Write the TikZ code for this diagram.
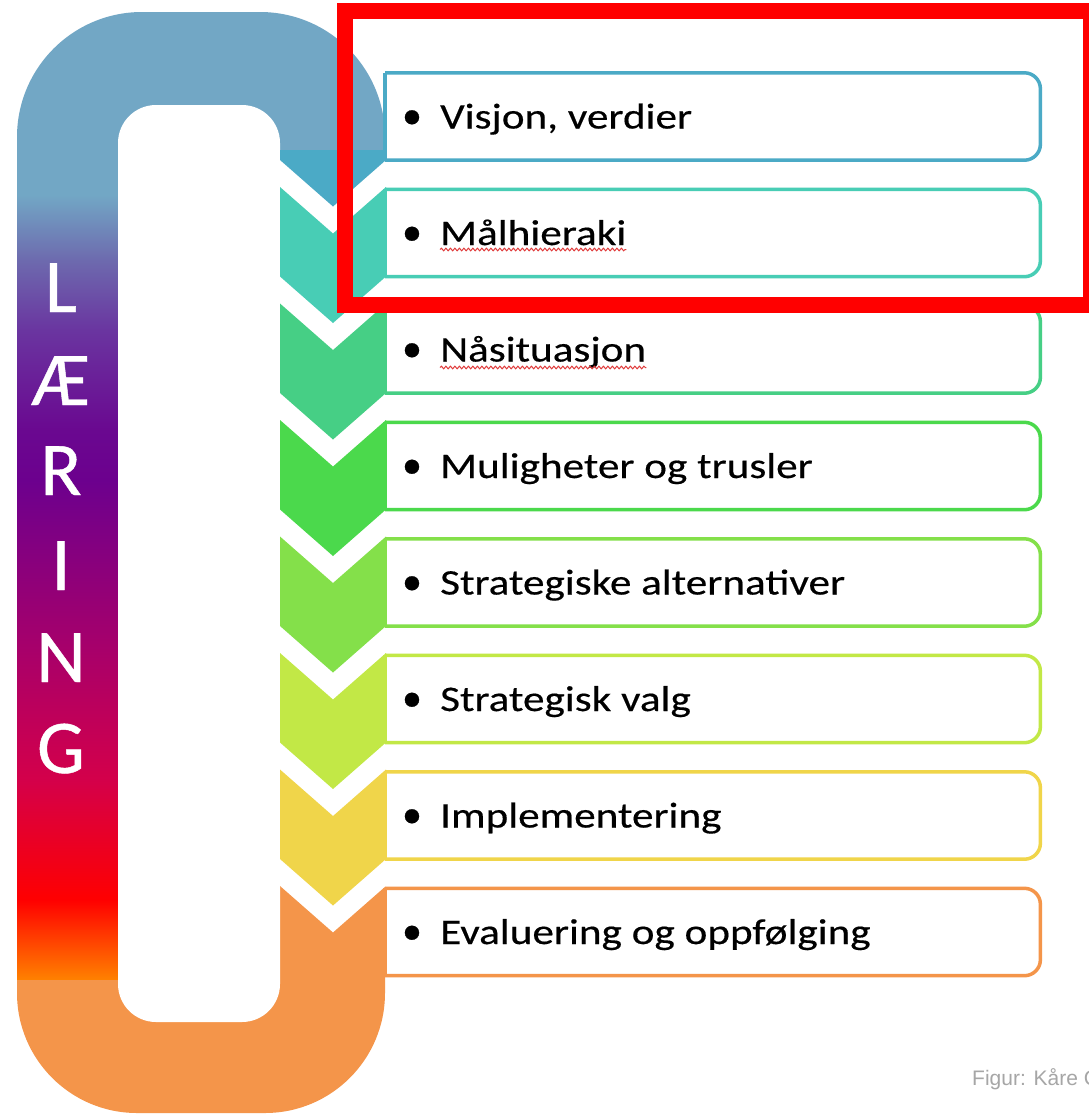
\documentclass[tikz,border=0pt]{standalone}
\usepackage{fontspec}
\setmainfont{Carlito}
\newfontfamily\stepfont[FakeStretch=1.2,FakeBold=0.4]{Carlito}
\newfontfamily\letterfont[FakeBold=0.6]{Carlito}
\newfontfamily\capfont{Liberation Sans}
\usetikzlibrary{decorations.pathmorphing}
\definecolor{topblue}{HTML}{72A7C5}
\definecolor{cA}{HTML}{4BAAC6}
\definecolor{cB}{HTML}{48CDB5}
\definecolor{cC}{HTML}{46CF85}
\definecolor{cD}{HTML}{4BD94C}
\definecolor{cE}{HTML}{84E04A}
\definecolor{cF}{HTML}{C2E846}
\definecolor{cG}{HTML}{F0D54A}
\definecolor{cH}{HTML}{F4954A}
\definecolor{g1}{HTML}{72A7C5}
\definecolor{g2}{HTML}{6D6AAE}
\definecolor{g3}{HTML}{6A35A0}
\definecolor{g4}{HTML}{6A0890}
\definecolor{g5}{HTML}{6C008E}
\definecolor{g6}{HTML}{A8006A}
\definecolor{g7}{HTML}{D4004A}
\definecolor{g8}{HTML}{FF0000}
\definecolor{g9}{HTML}{FF8000}
\definecolor{capgray}{HTML}{A6A6A6}
\definecolor{hlred}{HTML}{FF0000}
\definecolor{squig}{HTML}{E03A3A}
\begin{document}
\begin{tikzpicture}[x=1pt,y=-1pt,
  stepbox/.style={anchor=west, minimum width=655pt, minimum height=87pt, inner sep=0pt, draw=none},
  boxframe/.style={line width=3.5pt, rounded corners=16pt},
  steptext/.style={anchor=base west, inner sep=0pt, text=black, font=\stepfont\fontsize{36}{40}\selectfont},
  bulletmark/.style={anchor=base, inner sep=0pt, text=black, font=\letterfont\fontsize{40}{44}\selectfont},
  letter/.style={anchor=base, inner sep=0pt, text=white, font=\letterfont\fontsize{76}{80}\selectfont},
  squiggle/.style={squig, line width=1pt, decorate, decoration={snake, amplitude=1.3pt, segment length=4.5pt}}]
\useasboundingbox (0,0) rectangle (1089,1117);
\fill[white] (0,0) rectangle (1089,1117);

% top arc of the loop
\begin{scope}
  \clip (0,0) -- (1089,0) -- (1089,150) -- (118,150) -- (118,320) -- (0,320) -- cycle;
  \fill[topblue, rounded corners=125pt] (17,12) rectangle (385,420);
\end{scope}

% bottom arc of the loop (with the notch of the last chevron)
\begin{scope}
  \clip (0,978) -- (280,978) -- (280,886) -- (333,932.5) -- (386,886) -- (386,1117) -- (0,1117) -- cycle;
  \fill[cH, rounded corners=120pt] (17,600) rectangle (385,1113);
\end{scope}

% left column gradient
\foreach \ya/\ca/\yb/\cb in {195/g1/260/g2, 260/g2/330/g3, 330/g3/430/g4, 430/g4/480/g5, 480/g5/650/g6, 650/g6/780/g7, 780/g7/900/g8, 900/g8/978.5/g9}{
  \shade[top color=\ca, bottom color=\cb] (17,\ya) rectangle (118,\yb+0.6);
}

% inner hole
\fill[white, rounded corners=38pt] (118,105) rectangle (280,1022);

% boxes and texts
\foreach \i/\c/\txt in {0/cA/{Visjon, verdier},1/cB/{Målhieraki},2/cC/{Nåsituasjon},3/cD/{Muligheter og trusler},4/cE/{Strategiske alternativer},5/cF/{Strategisk valg},6/cG/{Implementering},7/cH/{Evaluering og oppfølging}}{
  \pgfmathsetmacro\cy{116.5*(\i+1)}
  \node[stepbox] (b\i) at (385,\cy) {};
  \draw[boxframe, draw=\c] (b\i.north west) -- (b\i.north east) -- (b\i.south east) -- (b\i.south west);
  \draw[line width=3.5pt, draw=\c] (b\i.north west) -- (b\i.south west);
  \node[bulletmark] (d\i) at (412,\cy+12) {•};
  \node[steptext] (t\i) at (440,\cy+12) {\txt};
}

% chevrons
\fill[cA] (280,150) -- (386,150) -- (386,160) -- (333,206.5) -- (280,160) -- cycle;
\foreach \i/\c in {1/cB,2/cC,3/cD,4/cE,5/cF,6/cG}{
  \pgfmathsetmacro\t{187+116.5*(\i-1)}
  \fill[\c] (280,\t) -- (333,\t+46.5) -- (386,\t) -- (386,\t+89.5) -- (333,\t+136) -- (280,\t+89.5) -- cycle;
}

% spell-check underlines
\draw[squiggle] ([yshift=-4.5pt]t1.base west) -- ([yshift=-4.5pt]t1.base east);
\draw[squiggle] ([yshift=-6pt]t2.base west) -- ([yshift=-6pt]t2.base east);

% vertical word
\foreach \l/\y [count=\k] in {L/312,Æ/405,R/495,I/590,N/682,G/773}{
  \node[letter] (l\k) at (61,\y) {\l};
}

% caption
\node[anchor=base west, inner sep=0pt, text=capgray, font=\capfont\fontsize{21}{24}\selectfont] (cap) at (972,1085) {Figur: Kåre C};

% highlight frame
\draw[hlred, line width=16pt] (345,11) rectangle (1091,304.5);
\end{tikzpicture}
\end{document}
